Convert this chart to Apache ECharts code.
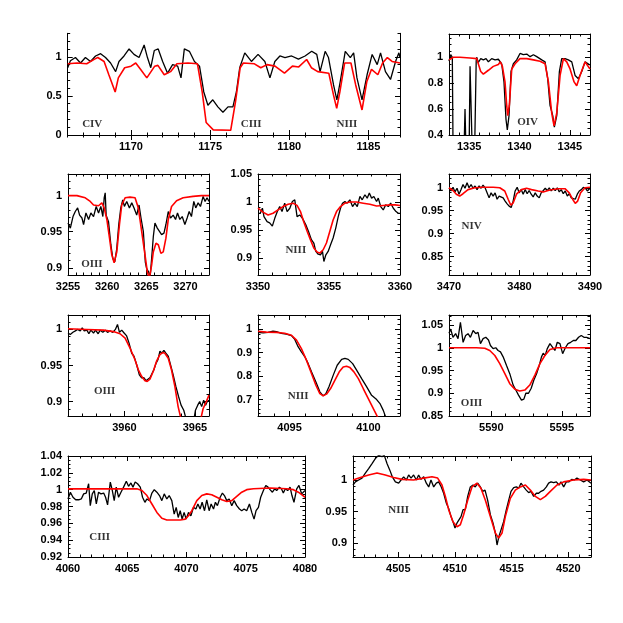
<!DOCTYPE html>
<html>
<head>
<meta charset="utf-8">
<script src="https://cdn.jsdelivr.net/npm/echarts@6/dist/echarts.min.js"></script>
<style>
  html, body { margin: 0; padding: 0; background: #fff; }
  #chart { width: 623px; height: 623px; }
</style>
</head>
<body>
<div id="chart"></div>
<script>
// observed spectrum (black) and model (red), [wavelength, normalised flux]
const obsA = [[1166.0,0.86],[1166.17,0.95],[1166.49,0.99],[1166.81,0.92],[1167.12,0.99],[1167.44,0.94],[1167.76,1.01],[1168.08,1.04],[1168.39,0.99],[1168.71,0.92],[1169.03,0.81],[1169.24,0.94],[1169.56,1.01],[1169.88,1.1],[1170.19,1.03],[1170.51,0.99],[1170.83,1.15],[1171.04,0.99],[1171.25,0.86],[1171.47,1.08],[1171.72,1.1],[1172.0,0.94],[1172.31,0.79],[1172.63,0.9],[1172.95,0.88],[1173.16,0.73],[1173.37,1.1],[1173.69,1.07],[1174.01,0.94],[1174.33,0.88],[1174.6,0.55],[1174.86,0.38],[1175.17,0.45],[1175.49,0.36],[1175.81,0.29],[1176.13,0.36],[1176.44,0.36],[1176.66,0.55],[1176.87,0.86],[1177.19,1.05],[1177.61,0.94],[1178.03,1.03],[1178.46,0.94],[1178.78,0.73],[1179.09,0.94],[1179.41,1.01],[1179.73,0.99],[1180.15,1.01],[1180.58,0.97],[1181.0,1.01],[1181.42,1.07],[1181.74,1.03],[1181.95,0.81],[1182.27,1.07],[1182.48,0.99],[1182.8,0.64],[1183.01,0.45],[1183.22,0.68],[1183.54,1.07],[1183.86,0.99],[1184.07,1.05],[1184.28,0.73],[1184.6,0.45],[1184.92,0.77],[1185.24,1.03],[1185.56,0.9],[1185.77,1.05],[1186.08,0.81],[1186.4,0.71],[1186.72,0.94],[1186.93,1.05],[1187.0,0.99]];
const modA = [[1166.0,0.91],[1166.6,0.92],[1167.2,0.91],[1167.7,0.97],[1167.9,0.99],[1168.3,0.94],[1168.6,0.77],[1169.0,0.55],[1169.2,0.73],[1169.6,0.86],[1170.0,0.88],[1170.3,0.92],[1170.6,0.84],[1171.0,0.73],[1171.5,0.88],[1171.7,0.89],[1172.1,0.77],[1172.5,0.81],[1172.9,0.91],[1173.6,0.92],[1174.2,0.91],[1174.5,0.55],[1174.75,0.16],[1175.2,0.065],[1176.3,0.06],[1176.6,0.42],[1176.9,0.86],[1177.1,0.92],[1177.8,0.91],[1178.2,0.86],[1178.6,0.9],[1179.1,0.88],[1179.7,0.79],[1180.2,0.88],[1180.6,0.87],[1181.1,0.965],[1181.4,0.86],[1181.8,0.81],[1182.5,0.79],[1182.8,0.51],[1183.0,0.34],[1183.2,0.55],[1183.5,0.92],[1183.9,0.92],[1184.2,0.64],[1184.6,0.32],[1184.9,0.68],[1185.2,0.84],[1185.6,0.77],[1185.9,0.92],[1186.2,0.99],[1186.5,0.94],[1187.0,0.92]];

const obsB = [[1333.0,0.97],[1333.17,1.02],[1333.33,1.0],[1333.4,0.3],[1334.5,0.3],[1334.59,0.6],[1334.68,0.3],[1335.0,0.3],[1335.09,0.93],[1335.2,0.93],[1335.3,0.3],[1335.55,0.3],[1335.7,0.97],[1335.75,1.0],[1335.91,0.96],[1336.15,0.99],[1336.41,0.98],[1336.68,0.99],[1336.91,0.965],[1337.24,0.99],[1337.57,0.98],[1337.9,0.985],[1338.23,0.95],[1338.46,0.81],[1338.66,0.52],[1338.79,0.44],[1338.96,0.55],[1339.16,0.89],[1339.39,0.95],[1339.72,0.98],[1340.05,1.03],[1340.38,1.02],[1340.72,1.025],[1341.05,1.005],[1341.38,1.02],[1341.71,1.005],[1342.21,0.98],[1342.54,0.965],[1342.8,0.835],[1343.03,0.63],[1343.3,0.55],[1343.46,0.46],[1343.7,0.55],[1343.96,0.89],[1344.19,0.99],[1344.52,0.99],[1344.85,0.98],[1345.19,0.965],[1345.52,0.86],[1345.85,0.835],[1346.18,0.89],[1346.51,0.965],[1346.68,0.95],[1347.0,0.94]];
const modB = [[1333.0,0.98],[1333.43,1.0],[1334.09,1.0],[1335.09,0.995],[1335.75,0.99],[1335.91,0.95],[1336.15,0.89],[1336.41,0.87],[1336.91,0.9],[1337.4,0.93],[1337.9,0.945],[1338.1,0.965],[1338.3,0.93],[1338.56,0.81],[1338.73,0.63],[1338.83,0.55],[1338.99,0.63],[1339.23,0.91],[1339.56,0.95],[1340.05,0.99],[1340.72,0.99],[1341.38,0.98],[1342.04,0.97],[1342.54,0.95],[1342.87,0.81],[1343.2,0.57],[1343.43,0.47],[1343.7,0.57],[1344.03,0.86],[1344.36,0.99],[1344.69,0.965],[1345.02,0.91],[1345.42,0.81],[1345.68,0.78],[1346.01,0.86],[1346.51,0.965],[1347.0,0.91]];

const obsC = [[3255,0.962],[3255.3,0.955],[3255.64,0.971],[3255.93,0.978],[3256.23,0.983],[3256.48,0.973],[3256.78,0.969],[3256.99,0.96],[3257.29,0.976],[3257.63,0.967],[3257.92,0.976],[3258.26,0.971],[3258.6,0.985],[3258.9,0.976],[3259.19,0.985],[3259.45,0.971],[3259.62,0.997],[3259.75,1.004],[3259.87,0.973],[3260.17,0.964],[3260.47,0.932],[3260.72,0.913],[3260.97,0.908],[3261.23,0.927],[3261.48,0.96],[3261.74,0.983],[3261.99,0.994],[3262.2,0.985],[3262.5,0.992],[3262.84,0.983],[3263.14,0.99],[3263.43,0.983],[3263.77,0.973],[3264.07,0.987],[3264.32,0.969],[3264.62,0.95],[3264.87,0.908],[3265.04,0.899],[3265.3,0.894],[3265.47,0.885],[3265.68,0.913],[3265.89,0.943],[3266.1,0.962],[3266.4,0.955],[3266.65,0.957],[3266.95,0.946],[3267.25,0.948],[3267.5,0.96],[3267.8,0.978],[3268.09,0.969],[3268.43,0.973],[3268.73,0.967],[3268.98,0.976],[3269.28,0.967],[3269.58,0.971],[3269.92,0.96],[3270.21,0.969],[3270.47,0.978],[3270.76,0.971],[3271.06,0.992],[3271.31,0.983],[3271.61,0.99],[3271.91,0.985],[3272.25,0.999],[3272.5,0.992],[3272.75,0.997],[3273,0.992]];
const modC = [[3255,1.0],[3256.14,1.0],[3257.2,0.997],[3257.84,0.992],[3258.26,0.987],[3258.9,0.986],[3259.32,0.99],[3259.62,0.983],[3259.96,0.967],[3260.3,0.941],[3260.59,0.918],[3260.89,0.907],[3261.23,0.922],[3261.57,0.96],[3261.86,0.987],[3262.29,0.997],[3262.92,0.998],[3263.56,0.997],[3263.98,0.983],[3264.41,0.95],[3264.83,0.918],[3265.13,0.894],[3265.38,0.885],[3265.68,0.904],[3265.89,0.922],[3266.23,0.934],[3266.53,0.932],[3266.86,0.92],[3267.16,0.922],[3267.5,0.941],[3267.8,0.967],[3268.22,0.985],[3268.86,0.993],[3269.7,0.997],[3270.97,0.999],[3272.03,1.0],[3273,1.0]];

const obsD = [[3350,0.98],[3350.16,0.98],[3350.31,0.989],[3350.42,0.974],[3350.64,0.965],[3350.82,0.963],[3351.01,0.957],[3351.18,0.971],[3351.36,0.983],[3351.53,0.992],[3351.69,0.983],[3351.88,0.998],[3352.05,0.983],[3352.24,0.989],[3352.42,1.001],[3352.59,1.004],[3352.75,0.974],[3352.94,0.977],[3353.13,0.971],[3353.36,0.96],[3353.55,0.948],[3353.76,0.933],[3353.93,0.927],[3354.07,0.912],[3354.24,0.907],[3354.4,0.906],[3354.54,0.912],[3354.64,0.894],[3354.78,0.906],[3354.94,0.912],[3355.11,0.924],[3355.29,0.936],[3355.48,0.954],[3355.65,0.974],[3355.81,0.989],[3355.95,0.998],[3356.12,1.001],[3356.28,0.998],[3356.47,1.004],[3356.66,0.992],[3356.82,0.998],[3356.99,0.992],[3357.18,1.01],[3357.34,1.004],[3357.53,1.013],[3357.69,1.007],[3357.84,1.016],[3358.0,1.007],[3358.16,1.01],[3358.35,1.001],[3358.47,1.007],[3358.64,0.992],[3358.82,0.986],[3358.99,0.995],[3359.18,0.992],[3359.34,0.998],[3359.53,0.989],[3359.72,0.983],[3359.88,0.98],[3360,0.98]];
const modD = [[3350,0.989],[3350.35,0.982],[3350.71,0.977],[3351.06,0.98],[3351.41,0.986],[3351.76,0.992],[3352.12,0.996],[3352.47,0.998],[3352.75,0.994],[3352.99,0.983],[3353.22,0.965],[3353.46,0.948],[3353.69,0.933],[3353.93,0.918],[3354.16,0.911],[3354.35,0.909],[3354.59,0.915],[3354.82,0.927],[3355.06,0.948],[3355.29,0.968],[3355.53,0.983],[3355.81,0.992],[3356.12,0.998],[3356.47,1.0],[3356.94,1.0],[3357.41,0.998],[3357.88,0.996],[3358.35,0.993],[3358.82,0.994],[3359.29,0.995],[3359.65,0.995],[3360,0.994]];

const obsE = [[3470,0.999],[3470.28,0.993],[3470.57,1.001],[3470.85,0.991],[3471.14,0.999],[3471.42,0.986],[3471.71,0.996],[3471.99,1.007],[3472.27,0.999],[3472.56,1.011],[3472.84,1.0],[3473.13,1.007],[3473.41,0.999],[3473.7,1.004],[3473.98,0.996],[3474.27,1.004],[3474.55,0.999],[3474.83,1.006],[3475.12,1.0],[3475.4,0.989],[3475.69,0.978],[3475.97,0.989],[3476.26,0.982],[3476.54,0.989],[3476.82,0.975],[3477.11,0.982],[3477.39,0.986],[3477.68,0.978],[3477.96,0.971],[3478.25,0.965],[3478.53,0.96],[3478.82,0.957],[3479.1,0.971],[3479.38,0.993],[3479.67,1.001],[3479.95,0.989],[3480.24,0.996],[3480.52,0.986],[3480.81,0.996],[3481.09,0.987],[3481.37,0.994],[3481.66,0.986],[3481.94,0.98],[3482.23,0.989],[3482.51,0.982],[3482.8,0.978],[3483.08,0.989],[3483.36,0.993],[3483.65,0.999],[3483.93,0.994],[3484.22,1.0],[3484.5,0.993],[3484.79,0.999],[3485.07,0.994],[3485.36,1.0],[3485.64,0.991],[3485.92,0.996],[3486.21,0.987],[3486.49,0.993],[3486.78,0.982],[3487.06,0.987],[3487.35,0.978],[3487.63,0.982],[3487.91,0.975],[3488.2,0.986],[3488.48,0.993],[3488.77,0.996],[3489.05,1.001],[3489.34,0.999],[3489.62,0.993],[3490,0.999]];
const modE = [[3470,1.0],[3470.57,0.994],[3471.04,0.986],[3471.52,0.982],[3471.99,0.987],[3472.7,0.996],[3473.65,1.0],[3474.83,1.001],[3476.26,1.001],[3477.2,1.0],[3477.91,0.993],[3478.39,0.975],[3478.77,0.962],[3479.1,0.967],[3479.57,0.986],[3480.28,0.996],[3481.0,0.999],[3481.71,0.996],[3482.65,0.993],[3483.36,0.991],[3484.31,0.995],[3485.5,0.998],[3486.45,0.998],[3487.06,0.989],[3487.54,0.975],[3487.91,0.966],[3488.25,0.971],[3488.67,0.989],[3489.29,1.0],[3490,1.001]];

const obsF = [[3956,0.995],[3956.16,0.993],[3956.35,0.996],[3956.52,0.998],[3956.68,1.0],[3956.87,0.998],[3957.01,1.002],[3957.15,0.998],[3957.34,0.999],[3957.48,0.994],[3957.62,0.999],[3957.81,0.995],[3957.95,0.999],[3958.14,0.994],[3958.28,0.999],[3958.47,0.996],[3958.66,0.999],[3958.8,0.996],[3958.99,0.998],[3959.18,0.996],[3959.36,1.0],[3959.51,1.007],[3959.65,0.996],[3959.81,0.999],[3959.98,0.995],[3960.16,0.991],[3960.33,0.981],[3960.52,0.967],[3960.68,0.963],[3960.87,0.951],[3961.06,0.937],[3961.22,0.933],[3961.39,0.933],[3961.53,0.929],[3961.67,0.927],[3961.81,0.933],[3961.95,0.931],[3962.09,0.944],[3962.24,0.953],[3962.38,0.958],[3962.52,0.97],[3962.66,0.967],[3962.8,0.971],[3962.94,0.967],[3963.11,0.963],[3963.27,0.951],[3963.46,0.937],[3963.65,0.921],[3963.84,0.907],[3964.02,0.895],[3964.21,0.888],[3964.4,0.874],[3964.64,0.86],[3964.92,0.874],[3965.04,0.888],[3965.2,0.895],[3965.34,0.9],[3965.48,0.893],[3965.62,0.902],[3965.76,0.895],[3965.88,0.9],[3966,0.902]];
const modF = [[3956,1.001],[3957.34,1.0],[3958.52,0.999],[3959.22,0.997],[3959.69,0.994],[3960.05,0.988],[3960.4,0.974],[3960.75,0.958],[3960.99,0.944],[3961.22,0.935],[3961.46,0.929],[3961.62,0.928],[3961.81,0.931],[3962.05,0.942],[3962.28,0.956],[3962.52,0.965],[3962.71,0.968],[3962.87,0.967],[3963.11,0.96],[3963.34,0.944],[3963.58,0.921],[3963.81,0.893],[3963.98,0.879],[3964.16,0.851],[3965.0,0.8],[3965.35,0.87],[3965.58,0.89],[3965.81,0.9],[3966,0.909]];

const obsG = [[4093,0.986],[4093.32,0.984],[4093.64,0.986],[4093.95,0.991],[4094.17,0.989],[4094.48,0.982],[4094.8,0.979],[4095.12,0.972],[4095.33,0.956],[4095.54,0.925],[4095.75,0.903],[4095.97,0.882],[4096.18,0.853],[4096.39,0.818],[4096.67,0.775],[4096.92,0.733],[4097.13,0.716],[4097.3,0.725],[4097.51,0.757],[4097.77,0.804],[4098.02,0.846],[4098.3,0.871],[4098.51,0.875],[4098.72,0.871],[4099.0,0.853],[4099.25,0.825],[4099.57,0.789],[4099.89,0.754],[4100.2,0.718],[4100.52,0.7],[4100.73,0.683],[4100.94,0.654],[4101.09,0.626],[4101.26,0.6]];
const modG = [[4093,0.991],[4093.53,0.987],[4094.17,0.986],[4094.69,0.982],[4095.12,0.974],[4095.44,0.953],[4095.75,0.917],[4096.07,0.868],[4096.39,0.811],[4096.67,0.761],[4096.92,0.725],[4097.13,0.716],[4097.34,0.723],[4097.6,0.747],[4097.87,0.782],[4098.15,0.818],[4098.4,0.839],[4098.61,0.842],[4098.83,0.836],[4099.08,0.818],[4099.36,0.789],[4099.67,0.747],[4099.99,0.704],[4100.31,0.661],[4100.63,0.619],[4100.94,0.58]];

const obsH = [[5587,1.032],[5587.12,1.041],[5587.28,1.023],[5587.47,1.031],[5587.64,1.02],[5587.81,1.056],[5588.0,1.012],[5588.18,1.027],[5588.35,1.031],[5588.52,1.023],[5588.71,1.038],[5588.9,1.031],[5589.06,1.034],[5589.23,1.009],[5589.42,1.02],[5589.61,1.023],[5589.8,1.017],[5589.94,1.005],[5590.13,0.998],[5590.32,1.0],[5590.48,0.994],[5590.65,0.991],[5590.84,0.98],[5591.08,0.961],[5591.31,0.943],[5591.55,0.918],[5591.74,0.907],[5591.93,0.896],[5592.14,0.885],[5592.31,0.887],[5592.45,0.9],[5592.64,0.9],[5592.83,0.911],[5593.02,0.929],[5593.21,0.943],[5593.4,0.961],[5593.56,0.98],[5593.68,0.988],[5593.82,0.983],[5593.97,0.998],[5594.16,1.009],[5594.35,1.001],[5594.51,0.994],[5594.68,1.012],[5594.87,1.009],[5595.06,0.987],[5595.25,1.0],[5595.44,1.009],[5595.63,1.012],[5595.82,1.016],[5596.0,1.016],[5596.19,1.023],[5596.38,1.027],[5596.57,1.023],[5596.76,1.023],[5597,1.02]];
const modH = [[5587,1.0],[5588.94,1.0],[5589.54,0.999],[5589.89,0.994],[5590.25,0.983],[5590.6,0.965],[5590.96,0.943],[5591.31,0.921],[5591.67,0.909],[5592.02,0.905],[5592.38,0.907],[5592.73,0.918],[5593.09,0.94],[5593.45,0.965],[5593.8,0.983],[5594.16,0.996],[5594.63,1.0],[5597,1.0]];

const obsI = [[4060,0.989],[4060.2,0.997],[4060.42,0.991],[4060.65,0.988],[4060.9,0.988],[4061.12,0.989],[4061.32,0.995],[4061.54,0.996],[4061.74,1.007],[4061.88,0.981],[4062.05,0.995],[4062.22,0.999],[4062.39,0.983],[4062.58,0.997],[4062.78,0.995],[4063.01,0.996],[4063.17,0.991],[4063.34,0.982],[4063.57,1.009],[4063.74,0.999],[4063.9,0.987],[4064.07,1.003],[4064.27,0.991],[4064.47,0.997],[4064.69,1.003],[4064.92,1.01],[4065.11,1.004],[4065.31,1.008],[4065.48,1.003],[4065.67,1.009],[4065.87,1.007],[4066.1,1.003],[4066.29,0.991],[4066.49,0.985],[4066.66,0.989],[4066.88,0.987],[4067.08,0.996],[4067.28,1.0],[4067.5,0.997],[4067.72,0.993],[4067.92,0.987],[4068.12,0.995],[4068.34,0.989],[4068.54,0.993],[4068.76,0.987],[4068.96,0.971],[4069.13,0.979],[4069.3,0.967],[4069.47,0.975],[4069.63,0.965],[4069.8,0.973],[4069.97,0.965],[4070.17,0.973],[4070.37,0.969],[4070.59,0.979],[4070.79,0.977],[4070.96,0.983],[4071.15,0.977],[4071.32,0.985],[4071.52,0.975],[4071.71,0.988],[4071.91,0.975],[4072.08,0.983],[4072.28,0.977],[4072.44,0.985],[4072.61,0.981],[4072.84,0.991],[4073.03,0.996],[4073.2,0.993],[4073.4,0.987],[4073.6,0.989],[4073.82,0.981],[4074.02,0.987],[4074.24,0.981],[4074.47,0.977],[4074.66,0.975],[4074.86,0.977],[4075.08,0.975],[4075.31,0.983],[4075.51,0.973],[4075.7,0.965],[4075.87,0.975],[4076.07,0.979],[4076.26,0.991],[4076.49,0.999],[4076.69,1.005],[4076.88,1.003],[4077.05,1.0],[4077.25,0.997],[4077.44,1.001],[4077.61,0.999],[4077.84,1.003],[4078.01,1.001],[4078.17,0.996],[4078.34,1.001],[4078.54,0.999],[4078.74,1.003],[4078.9,0.993],[4079.07,0.985],[4079.3,1.001],[4079.49,1.005],[4079.72,0.995],[4080,0.999]];
const modI = [[4060,1.001],[4061.6,1.001],[4063.01,1.001],[4064.41,1.001],[4065.81,1.001],[4066.24,0.999],[4066.66,0.993],[4067.08,0.983],[4067.5,0.973],[4067.92,0.966],[4068.34,0.964],[4068.9,0.964],[4069.47,0.964],[4069.89,0.965],[4070.17,0.969],[4070.45,0.975],[4070.87,0.987],[4071.29,0.993],[4071.71,0.995],[4072.13,0.994],[4072.56,0.991],[4072.98,0.988],[4073.4,0.986],[4073.82,0.987],[4074.24,0.992],[4074.66,0.997],[4075.08,1.0],[4075.65,1.001],[4077.05,1.002],[4078.46,1.001],[4079.02,1.0],[4079.44,0.997],[4079.72,0.994],[4080,0.991]];

const obsJ = [[4501,0.992],[4501.21,0.997],[4501.5,1.0],[4501.79,1.003],[4502.09,1.011],[4502.38,1.018],[4502.68,1.026],[4502.97,1.034],[4503.26,1.039],[4503.56,1.037],[4503.76,1.039],[4504.0,1.026],[4504.24,1.016],[4504.47,1.005],[4504.74,0.997],[4505.03,0.995],[4505.24,1.0],[4505.47,1.005],[4505.71,1.0],[4505.91,1.008],[4506.12,1.003],[4506.35,1.008],[4506.59,1.0],[4506.79,1.008],[4507.0,1.001],[4507.24,1.005],[4507.47,0.995],[4507.68,0.989],[4507.88,1.0],[4508.12,0.989],[4508.35,0.995],[4508.56,0.997],[4508.79,0.989],[4509.0,0.979],[4509.24,0.963],[4509.44,0.955],[4509.65,0.942],[4509.82,0.934],[4510.0,0.924],[4510.18,0.932],[4510.35,0.934],[4510.53,0.942],[4510.71,0.953],[4510.91,0.953],[4511.12,0.974],[4511.35,0.989],[4511.59,0.992],[4511.79,0.989],[4512.0,0.995],[4512.24,0.989],[4512.44,0.982],[4512.65,0.984],[4512.88,0.968],[4513.12,0.945],[4513.35,0.932],[4513.56,0.916],[4513.71,0.897],[4513.88,0.911],[4514.06,0.921],[4514.29,0.934],[4514.53,0.953],[4514.74,0.968],[4514.94,0.982],[4515.18,0.988],[4515.41,0.989],[4515.62,0.987],[4515.82,0.995],[4516.06,0.989],[4516.29,0.984],[4516.5,0.98],[4516.71,0.982],[4516.94,0.974],[4517.18,0.979],[4517.38,0.979],[4517.59,0.982],[4517.82,0.984],[4518.06,0.989],[4518.26,0.995],[4518.47,0.997],[4518.71,0.996],[4518.94,0.997],[4519.18,0.992],[4519.35,0.997],[4519.59,0.989],[4519.82,0.997],[4520.06,0.997],[4520.29,1.001],[4520.53,1.0],[4520.76,1.003],[4521.06,1.0],[4521.35,0.997],[4521.65,1.0],[4522,0.995]];
const modJ = [[4501,1.0],[4501.65,1.004],[4502.38,1.008],[4503.12,1.011],[4503.85,1.008],[4504.59,1.004],[4505.32,1.001],[4506.35,1.0],[4507.24,1.003],[4507.97,1.005],[4508.47,1.003],[4508.85,0.992],[4509.15,0.974],[4509.44,0.953],[4509.82,0.934],[4510.18,0.926],[4510.47,0.929],[4510.76,0.945],[4511.12,0.968],[4511.5,0.989],[4511.94,0.995],[4512.29,0.987],[4512.68,0.968],[4513.12,0.942],[4513.56,0.916],[4513.85,0.908],[4514.15,0.916],[4514.44,0.942],[4514.88,0.971],[4515.32,0.984],[4515.76,0.989],[4516.21,0.992],[4516.65,0.984],[4517.09,0.974],[4517.53,0.969],[4517.97,0.974],[4518.41,0.982],[4519.0,0.992],[4519.59,0.997],[4520.47,1.0],[4521.35,1.001],[4522,1.0]];

// tick labels
const xTicksA = [1170, 1175, 1180, 1185], yTicksA = [0, 0.5, 1];
const xTicksB = [1335, 1340, 1345], yTicksB = [0.4, 0.6, 0.8, 1];
const xTicksC = [3255, 3260, 3265, 3270], yTicksC = [0.9, 0.95, 1];
const xTicksD = [3350, 3355, 3360], yTicksD = [0.9, 0.95, 1, 1.05];
const xTicksE = [3470, 3480, 3490], yTicksE = [0.85, 0.9, 0.95, 1];
const xTicksF = [3960, 3965], yTicksF = [0.9, 0.95, 1];
const xTicksG = [4095, 4100], yTicksG = [0.7, 0.8, 0.9, 1];
const xTicksH = [5590, 5595], yTicksH = [0.85, 0.9, 0.95, 1, 1.05];
const xTicksI = [4060, 4065, 4070, 4075, 4080], yTicksI = [0.92, 0.94, 0.96, 0.98, 1, 1.02, 1.04];
const xTicksJ = [4505, 4510, 4515, 4520], yTicksJ = [0.9, 0.95, 1];

// line identifications [wavelength, flux, ion]
const ionsA = [[1167.55, 0.14, 'CIV'], [1177.6, 0.14, 'CIII'], [1183.65, 0.14, 'NIII']];
const ionsB = [[1340.8, 0.5, 'OIV']];
const ionsC = [[3258.05, 0.905, 'OIII']];
const ionsD = [[3352.66, 0.915, 'NIII']];
const ionsE = [[3473.2, 0.917, 'NIV']];
const ionsF = [[3958.6, 0.915, 'OIII']];
const ionsG = [[4095.54, 0.714, 'NIII']];
const ionsH = [[5588.6, 0.878, 'OIII']];
const ionsI = [[4062.67, 0.943, 'CIII']];
const ionsJ = [[4505.03, 0.953, 'NIII']];

// panel layout: box = [left, top, width, height] in px
const panels = [
    { box: [67.7, 33.3, 332.3, 101.7], x: [1166, 1187], y: [0, 1.3], xt: xTicksA, yt: yTicksA, xs: 1, ys: 0.1, obs: obsA, mod: modA, ions: ionsA },
    { box: [449, 34, 141, 101], x: [1333, 1347], y: [0.4, 1.18], xt: xTicksB, yt: yTicksB, xs: 1, ys: 0.05, obs: obsB, mod: modB, ions: ionsB },
    { box: [68, 174, 141, 101], x: [3255, 3273], y: [0.89, 1.03], xt: xTicksC, yt: yTicksC, xs: 1, ys: 0.01, obs: obsC, mod: modC, ions: ionsC },
    { box: [258, 174, 142, 101], x: [3350, 3360], y: [0.87, 1.05], xt: xTicksD, yt: yTicksD, xs: 1, ys: 0.01, obs: obsD, mod: modD, ions: ionsD },
    { box: [449, 174, 141, 101], x: [3470, 3490], y: [0.81, 1.03], xt: xTicksE, yt: yTicksE, xs: 2, ys: 0.01, obs: obsE, mod: modE, ions: ionsE },
    { box: [68, 315, 141, 101], x: [3956, 3966], y: [0.88, 1.02], xt: xTicksF, yt: yTicksF, xs: 1, ys: 0.01, obs: obsF, mod: modF, ions: ionsF },
    { box: [258, 315, 142, 101], x: [4093, 4102], y: [0.63, 1.06], xt: xTicksG, yt: yTicksG, xs: 1, ys: 0.02, obs: obsG, mod: modG, ions: ionsG },
    { box: [449, 315, 141, 101], x: [5587, 5597], y: [0.85, 1.072], xt: xTicksH, yt: yTicksH, xs: 1, ys: 0.01, obs: obsH, mod: modH, ions: ionsH },
    { box: [68, 456, 237, 101], x: [4060, 4080], y: [0.92, 1.04], xt: xTicksI, yt: yTicksI, xs: 1, ys: 0.005, obs: obsI, mod: modI, ions: ionsI },
    { box: [353, 456, 238, 101], x: [4501, 4522], y: [0.878, 1.038], xt: xTicksJ, yt: yTicksJ, xs: 1, ys: 0.01, obs: obsJ, mod: modJ, ions: ionsJ }
];

// minor tick positions between lo and hi
function steps(lo, hi, st) {
    const out = [];
    for (let k = Math.ceil(lo / st - 1e-6); k * st <= hi + 1e-9; k++) out.push(+(k * st).toFixed(6));
    return out;
}

const labelFont = { fontSize: 11, fontWeight: 'bold', color: '#000', fontFamily: 'Liberation Sans, Arial, sans-serif',
    formatter: v => String(v) };
const grid = [], xAxis = [], yAxis = [], series = [];

panels.forEach((p, i) => {
    grid.push({ left: p.box[0], top: p.box[1], width: p.box[2], height: p.box[3] });

    const xm = steps(p.x[0], p.x[1], p.xs);
    const ym = steps(p.y[0], p.y[1], p.ys);
    const line = { show: true, lineStyle: { color: '#000', width: 1 } };
    const noLine = { show: false };

    ['bottom', 'top'].forEach(pos => {
        xAxis.push({
            gridIndex: i, type: 'value', position: pos, min: p.x[0], max: p.x[1],
            splitLine: { show: false }, axisLine: line,
            axisTick: { inside: true, length: 5, customValues: p.xt, lineStyle: { color: '#000' } },
            axisLabel: pos === 'bottom' ? { customValues: p.xt, margin: 6, ...labelFont } : { show: false }
        });
        xAxis.push({
            gridIndex: i, type: 'value', position: pos, min: p.x[0], max: p.x[1],
            splitLine: { show: false }, axisLine: noLine,
            axisTick: { inside: true, length: 2.5, customValues: xm, lineStyle: { color: '#000' } },
            axisLabel: { show: false }
        });
    });
    ['left', 'right'].forEach(pos => {
        yAxis.push({
            gridIndex: i, type: 'value', position: pos, min: p.y[0], max: p.y[1],
            splitLine: { show: false }, axisLine: line,
            axisTick: { inside: true, length: 5, customValues: p.yt, lineStyle: { color: '#000' } },
            axisLabel: pos === 'left' ? { customValues: p.yt, margin: 6, ...labelFont } : { show: false }
        });
        yAxis.push({
            gridIndex: i, type: 'value', position: pos, min: p.y[0], max: p.y[1],
            splitLine: { show: false }, axisLine: noLine,
            axisTick: { inside: true, length: 2.5, customValues: ym, lineStyle: { color: '#000' } },
            axisLabel: { show: false }
        });
    });

    const ax = { xAxisIndex: 4 * i, yAxisIndex: 4 * i };
    series.push({ type: 'line', ...ax, data: p.obs, showSymbol: false, symbol: 'none', clip: true,
        lineStyle: { color: '#000', width: 1.3 }, z: 3 });
    series.push({ type: 'line', ...ax, data: p.mod, showSymbol: false, symbol: 'none', clip: true,
        lineStyle: { color: '#ff0000', width: 1.6 }, z: 4 });
    series.push({ type: 'scatter', ...ax, data: p.ions, symbolSize: 0, z: 5,
        label: { show: true, position: 'inside', formatter: d => d.data[2],
            fontFamily: 'Liberation Serif, Times New Roman, serif', fontWeight: 'bold', fontSize: 11, color: '#000' } });
});

const chart = echarts.init(document.getElementById('chart'), null, { renderer: 'canvas' });
chart.setOption({
    backgroundColor: '#fff',
    animation: false,
    grid: grid,
    xAxis: xAxis,
    yAxis: yAxis,
    series: series
});
</script>
</body>
</html>
